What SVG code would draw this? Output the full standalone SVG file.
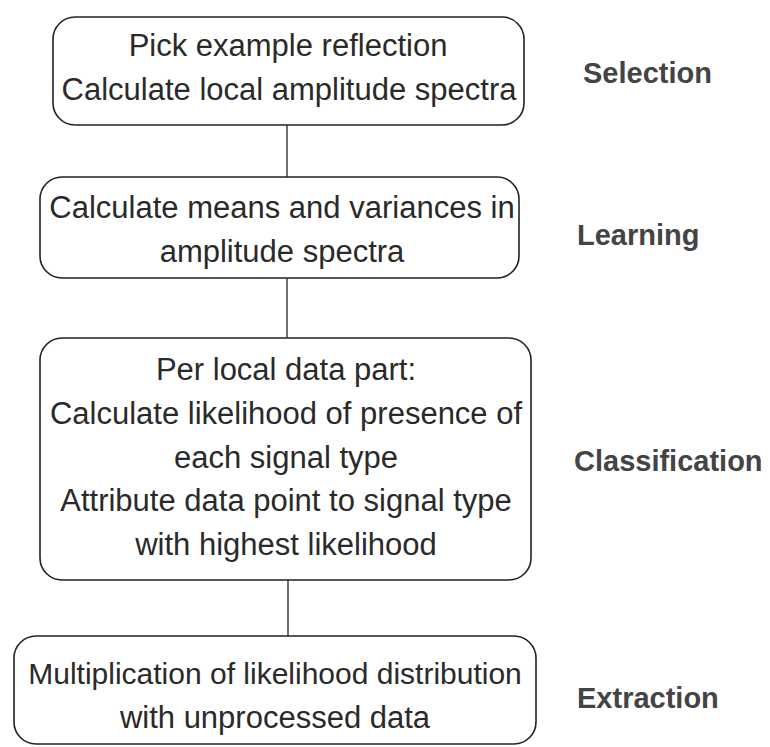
<svg xmlns="http://www.w3.org/2000/svg" width="770" height="747" viewBox="0 0 770 747">
<style>
.box{fill:#fff;stroke:#222;stroke-width:1.6}
.t{font-family:"Liberation Sans",Arial,sans-serif;font-size:31px;fill:#2a2a2a;text-anchor:middle}
.lab{font-family:"Liberation Sans",Arial,sans-serif;font-size:29px;font-weight:bold;fill:#444}
.con{stroke:#333;stroke-width:1.4;fill:none}
</style>
<rect width="770" height="747" fill="#fff"/>
<g id="connectors">
<line class="con" x1="287" y1="125" x2="287" y2="177"/>
<line class="con" x1="287" y1="278" x2="287" y2="338"/>
<line class="con" x1="288" y1="580" x2="288" y2="636"/>
</g>
<g id="selection">
<rect class="box" x="53" y="17" width="471" height="108" rx="22"/>
<text class="t" x="288" y="56">Pick example reflection</text>
<text class="t" x="289" y="100">Calculate local amplitude spectra</text>
</g>
<g id="learning">
<rect class="box" x="40" y="177" width="479" height="101" rx="22"/>
<text class="t" x="282" y="218">Calculate means and variances in</text>
<text class="t" x="282" y="262">amplitude spectra</text>
</g>
<g id="classification">
<rect class="box" x="40" y="338" width="491" height="242" rx="22"/>
<text class="t" x="286" y="380">Per local data part:</text>
<text class="t" x="286" y="424">Calculate likelihood of presence of</text>
<text class="t" x="286" y="468">each signal type</text>
<text class="t" x="286" y="511">Attribute data point to signal type</text>
<text class="t" x="286" y="555">with highest likelihood</text>
</g>
<g id="extraction">
<rect class="box" x="14" y="636" width="522" height="108" rx="22"/>
<text class="t" x="275" y="684" style="font-size:30px">Multiplication of likelihood distribution</text>
<text class="t" x="275" y="728">with unprocessed data</text>
</g>
<g id="labels">
<text class="lab" x="583" y="83">Selection</text>
<text class="lab" x="577" y="245">Learning</text>
<text class="lab" x="574" y="471">Classification</text>
<text class="lab" x="577" y="708">Extraction</text>
</g>
</svg>
